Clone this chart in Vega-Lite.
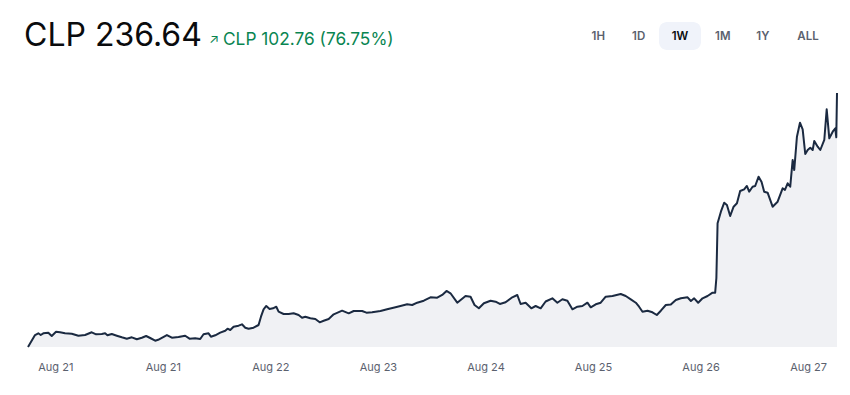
{
  "$schema": "https://vega.github.io/schema/vega-lite/v6.json",
  "autosize": "none",
  "width": 809,
  "height": 254,
  "padding": {"left": 28, "top": 93, "right": 13, "bottom": 48},
  "background": "white",
  "config": {"view": {"stroke": null}, "font": "Inter"},
  "data": {"values": [
    {"hour":0,"price":133.88},{"hour":1.46,"price":138.73},{"hour":2.14,"price":139.42},{"hour":2.64,"price":138.73},
    {"hour":3.18,"price":139.42},{"hour":4.22,"price":139.67},{"hour":4.93,"price":138.33},{"hour":5.82,"price":140.07},
    {"hour":6.65,"price":139.83},{"hour":7.69,"price":139.42},{"hour":9.09,"price":139.26},{"hour":10.46,"price":138.45},
    {"hour":11.85,"price":138.73},{"hour":13.24,"price":139.83},{"hour":14.14,"price":139.02},{"hour":15.32,"price":139.14},
    {"hour":16.01,"price":139.42},{"hour":16.49,"price":138.61},{"hour":17.4,"price":139.14},{"hour":18.44,"price":138.45},
    {"hour":19.48,"price":137.8},{"hour":20.52,"price":137.24},{"hour":21.56,"price":137.8},{"hour":22.6,"price":137.0},
    {"hour":23.64,"price":137.64},{"hour":24.53,"price":138.33},{"hour":25.37,"price":137.52},{"hour":26.41,"price":136.43},
    {"hour":27.03,"price":136.79},{"hour":28.84,"price":138.73},{"hour":29.88,"price":137.64},{"hour":31.25,"price":137.93},
    {"hour":32.64,"price":138.45},{"hour":33.54,"price":137.24},{"hour":34.72,"price":137.4},{"hour":35.76,"price":137.12},
    {"hour":36.45,"price":139.02},{"hour":37.49,"price":139.42},{"hour":37.99,"price":138.05},{"hour":38.88,"price":138.61},
    {"hour":39.92,"price":139.67},{"hour":40.96,"price":140.47},{"hour":41.44,"price":141.28},{"hour":42.0,"price":140.76},
    {"hour":42.69,"price":142.09},{"hour":43.73,"price":142.5},{"hour":44.43,"price":143.06},{"hour":45.12,"price":141.69},
    {"hour":45.81,"price":141.28},{"hour":46.84,"price":141.69},{"hour":47.88,"price":142.78},{"hour":48.38,"price":146.14},
    {"hour":48.92,"price":149.13},{"hour":49.48,"price":150.47},{"hour":50.17,"price":149.25},{"hour":50.88,"price":149.54},
    {"hour":51.56,"price":150.18},{"hour":52.04,"price":148.16},{"hour":53.08,"price":147.23},{"hour":54.12,"price":147.23},
    {"hour":55.16,"price":147.51},{"hour":56.2,"price":146.83},{"hour":56.91,"price":145.73},{"hour":57.59,"price":146.14},
    {"hour":58.63,"price":145.49},{"hour":59.67,"price":145.21},{"hour":60.57,"price":143.87},{"hour":61.4,"price":144.52},
    {"hour":62.44,"price":145.21},{"hour":63.48,"price":147.11},{"hour":65.23,"price":148.57},{"hour":66.6,"price":147.51},
    {"hour":67.64,"price":148.44},{"hour":69.38,"price":148.44},{"hour":70.28,"price":147.76},{"hour":71.46,"price":147.92},
    {"hour":73.19,"price":148.44},{"hour":74.58,"price":149.13},{"hour":76.31,"price":149.94},{"hour":77.35,"price":150.47},
    {"hour":78.74,"price":151.16},{"hour":79.78,"price":150.87},{"hour":80.82,"price":151.8},{"hour":82.19,"price":152.61},
    {"hour":83.58,"price":153.99},{"hour":84.98,"price":153.83},{"hour":86.02,"price":154.92},{"hour":86.91,"price":156.54},
    {"hour":87.74,"price":155.61},{"hour":89.14,"price":151.8},{"hour":90.86,"price":154.51},{"hour":91.9,"price":154.23},
    {"hour":92.73,"price":150.87},{"hour":93.63,"price":149.54},{"hour":94.67,"price":151.56},{"hour":96.06,"price":152.61},
    {"hour":97.1,"price":152.21},{"hour":97.99,"price":151.28},{"hour":99.18,"price":151.96},{"hour":100.57,"price":153.99},
    {"hour":101.61,"price":154.92},{"hour":102.3,"price":151.28},{"hour":103.34,"price":151.8},{"hour":104.52,"price":149.54},
    {"hour":105.42,"price":150.47},{"hour":106.46,"price":149.54},{"hour":107.49,"price":152.29},{"hour":108.89,"price":153.58},
    {"hour":109.93,"price":151.8},{"hour":110.97,"price":153.18},{"hour":112.01,"price":152.61},{"hour":113.05,"price":149.13},
    {"hour":114.09,"price":150.18},{"hour":115.13,"price":150.47},{"hour":116.17,"price":151.8},{"hour":116.86,"price":149.94},
    {"hour":117.9,"price":151.16},{"hour":118.93,"price":151.8},{"hour":119.97,"price":154.23},{"hour":121.37,"price":154.51},
    {"hour":123.09,"price":155.32},{"hour":124.13,"price":154.51},{"hour":125.18,"price":153.18},{"hour":126.22,"price":151.8},
    {"hour":126.9,"price":150.18},{"hour":127.61,"price":148.16},{"hour":128.65,"price":148.57},{"hour":129.68,"price":147.92},
    {"hour":130.58,"price":146.83},{"hour":131.42,"price":148.57},{"hour":132.45,"price":150.87},{"hour":133.49,"price":151.07},
    {"hour":134.53,"price":152.89},{"hour":135.58,"price":153.58},{"hour":136.97,"price":153.99},{"hour":137.66,"price":152.49},
    {"hour":138.34,"price":153.58},{"hour":139.17,"price":151.8},{"hour":140.08,"price":153.58},{"hour":141.12,"price":154.51},
    {"hour":142.16,"price":155.85},{"hour":142.7,"price":155.85},{"hour":142.95,"price":161.8},{"hour":143.2,"price":183.92},
    {"hour":143.89,"price":188.62},{"hour":144.58,"price":192.26},{"hour":145.14,"price":191.33},{"hour":145.82,"price":186.88},
    {"hour":146.53,"price":190.64},{"hour":147.22,"price":192.02},{"hour":147.89,"price":196.99},{"hour":148.72,"price":197.68},
    {"hour":149.28,"price":199.02},{"hour":149.76,"price":196.71},{"hour":150.47,"price":198.73},{"hour":151.01,"price":199.02},
    {"hour":151.72,"price":202.78},{"hour":152.34,"price":200.63},{"hour":152.88,"price":196.71},{"hour":153.59,"price":196.31},
    {"hour":154.63,"price":190.64},{"hour":155.67,"price":192.66},{"hour":156.71,"price":198.09},{"hour":157.19,"price":197.4},
    {"hour":157.75,"price":200.11},{"hour":158.29,"price":198.73},{"hour":158.79,"price":209.53},{"hour":159.12,"price":205.49},
    {"hour":159.68,"price":218.96},{"hour":160.31,"price":224.63},{"hour":160.87,"price":221.95},{"hour":161.41,"price":211.96},
    {"hour":161.91,"price":213.58},{"hour":162.45,"price":214.51},{"hour":162.95,"price":213.58},{"hour":163.28,"price":217.22},
    {"hour":163.99,"price":214.92},{"hour":164.53,"price":213.58},{"hour":165.36,"price":217.63},{"hour":165.86,"price":230.05},
    {"hour":166.4,"price":218.31},{"hour":167.11,"price":220.98},{"hour":167.65,"price":222.36},{"hour":167.85,"price":218.72},
    {"hour":168,"price":236.64}
  ]},
  "encoding": {
    "x": {
      "field": "hour", "type": "quantitative",
      "scale": {"domain": [0, 168], "nice": false, "zero": false},
      "axis": {
        "values": [5.67, 28, 50.33, 72.67, 95, 117.33, 139.67, 162],
        "labelExpr": "timeFormat(time(datetime(2024, 7, 20, 19)) + datum.value * 3600000, '%b %d')",
        "title": null, "domain": false, "ticks": false, "grid": false,
        "labelFont": "Inter", "labelFontSize": 11, "labelColor": "#5b616e",
        "labelPadding": 14, "labelFlush": false, "labelOverlap": false
      }
    },
    "y": {
      "field": "price", "type": "quantitative",
      "scale": {"domain": [133.88, 236.64], "nice": false, "zero": false},
      "axis": null
    }
  },
  "layer": [
    {"mark": {"type": "area", "color": "#f0f1f4", "opacity": 1}, "encoding": {"y2": {"datum": 133.88}}},
    {"mark": {"type": "line", "color": "#1b2a41", "strokeWidth": 2, "strokeJoin": "round"}},
    {
      "data": {"values": [{"label": "CLP 236.64"}]},
      "mark": {"type": "text", "align": "left", "baseline": "alphabetic", "font": "Inter", "fontSize": 32, "color": "#0a0b0d"},
      "encoding": {"text": {"field": "label"}, "x": {"value": -4}, "y": {"value": -47}}
    },
    {
      "data": {"values": [{"label": "↗"}]},
      "mark": {"type": "text", "align": "left", "baseline": "alphabetic", "font": "Inter", "fontSize": 13, "color": "#098551"},
      "encoding": {"text": {"field": "label"}, "x": {"value": 181}, "y": {"value": -49}}
    },
    {
      "data": {"values": [{"label": "CLP 102.76 (76.75%)"}]},
      "mark": {"type": "text", "align": "left", "baseline": "alphabetic", "font": "Inter", "fontSize": 17.3, "color": "#098551"},
      "encoding": {"text": {"field": "label"}, "x": {"value": 195}, "y": {"value": -48}}
    },
    {
      "data": {"values": [{"label": "1W"}]},
      "mark": {"type": "rect", "color": "#f0f3fa", "cornerRadius": 8},
      "encoding": {"x": {"value": 631}, "x2": {"value": 673}, "y": {"value": -71}, "y2": {"value": -43}}
    },
    {
      "data": {"values": [{"label": "1H"}]},
      "mark": {"type": "text", "align": "center", "baseline": "middle", "font": "Inter", "fontSize": 11.5, "fontWeight": 600, "color": "#5b616e"},
      "encoding": {"text": {"field": "label"}, "x": {"value": 570.3}, "y": {"value": -56}}
    },
    {
      "data": {"values": [{"label": "1D"}]},
      "mark": {"type": "text", "align": "center", "baseline": "middle", "font": "Inter", "fontSize": 11.5, "fontWeight": 600, "color": "#5b616e"},
      "encoding": {"text": {"field": "label"}, "x": {"value": 610.7}, "y": {"value": -56}}
    },
    {
      "data": {"values": [{"label": "1W"}]},
      "mark": {"type": "text", "align": "center", "baseline": "middle", "font": "Inter", "fontSize": 11.5, "fontWeight": 600, "color": "#0a0b0d"},
      "encoding": {"text": {"field": "label"}, "x": {"value": 652}, "y": {"value": -56}}
    },
    {
      "data": {"values": [{"label": "1M"}]},
      "mark": {"type": "text", "align": "center", "baseline": "middle", "font": "Inter", "fontSize": 11.5, "fontWeight": 600, "color": "#5b616e"},
      "encoding": {"text": {"field": "label"}, "x": {"value": 694.8}, "y": {"value": -56}}
    },
    {
      "data": {"values": [{"label": "1Y"}]},
      "mark": {"type": "text", "align": "center", "baseline": "middle", "font": "Inter", "fontSize": 11.5, "fontWeight": 600, "color": "#5b616e"},
      "encoding": {"text": {"field": "label"}, "x": {"value": 734.8}, "y": {"value": -56}}
    },
    {
      "data": {"values": [{"label": "ALL"}]},
      "mark": {"type": "text", "align": "center", "baseline": "middle", "font": "Inter", "fontSize": 11.5, "fontWeight": 600, "color": "#5b616e"},
      "encoding": {"text": {"field": "label"}, "x": {"value": 780}, "y": {"value": -56}}
    }
  ]
}
